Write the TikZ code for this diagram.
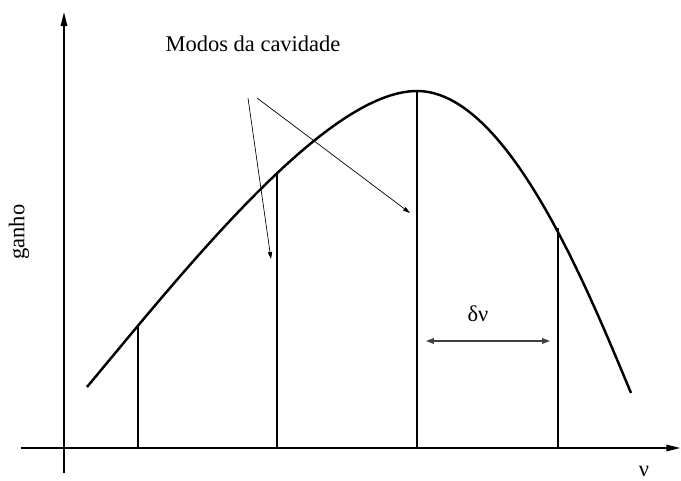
\documentclass[tikz,border=0pt]{standalone}
\usepackage{fontspec}
\setmainfont{Liberation Serif}
\usepackage{tikz}
\usetikzlibrary{arrows.meta,positioning,calc}

\begin{document}
\begin{tikzpicture}[x=1cm,y=1cm,font=\fontsize{12.8}{15}\selectfont,
  eixo/.style={line width=1.1pt,-{Triangle[length=8pt,width=3.6pt]}},
  modo/.style={line width=1.1pt},
  seta/.style={line width=0.4pt,-{Triangle[length=4pt,width=2.4pt]}}]
  \useasboundingbox (-1.28,-0.64) rectangle (12.34,8.96);
  % eixos
  \coordinate (xini) at (-0.86,0);
  \coordinate (xfim) at (12.33,0);
  \coordinate (yini) at (0,-0.50);
  \coordinate (yfim) at (0,8.72);
  \draw[eixo] (xini) -- (xfim);
  \draw[eixo] (yini) -- (yfim);
  \node[inner sep=0pt] (nu) at (11.60,-0.46) {ν};
  \node[rotate=90] (ganho) at (-0.90,4.32) {ganho};
  % curva de ganho
  \coordinate (c0) at (0.46,1.22);
  \coordinate (pico) at (7.06,7.14);
  \coordinate (c1) at (11.34,1.10);
  \draw[line width=1.4pt] (c0) .. controls (2.46,3.62) and (5.26,7.14) .. (pico)
    .. controls (8.86,7.14) and (10.44,3.26) .. (c1);
  % modos da cavidade
  \foreach \n/\x/\y in {1/1.48/2.46,2/4.26/5.52,3/7.06/7.14,4/9.88/4.40}{
    \coordinate (m\n) at (\x,\y);
    \coordinate (f\n) at (\x,0);
    \draw[modo] (f\n) -- (m\n);
  }
  \node (modos) at (3.78,8.08) {Modos da cavidade};
  \coordinate (s1) at (3.68,7.00);
  \coordinate (s2) at (3.86,7.00);
  \coordinate (t1) at (4.14,3.78);
  \coordinate (t2) at (6.92,4.70);
  \draw[seta] (s1) -- (t1);
  \draw[seta] (s2) -- (t2);
  % separacao entre modos
  \coordinate (d1) at (7.24,2.14);
  \coordinate (d2) at (9.72,2.14);
  \draw[line width=0.6pt,black!75,{Triangle[length=4.5pt,width=3.2pt]}-{Triangle[length=4.5pt,width=3.2pt]}] (d1) -- (d2);
  \node (dnu) at (8.28,2.68) {δν};
\end{tikzpicture}
\end{document}
